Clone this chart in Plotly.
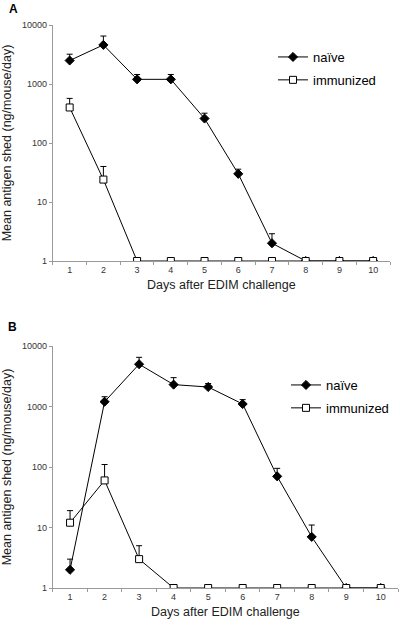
import plotly.graph_objects as go

days = [1, 2, 3, 4, 5, 6, 7, 8, 9, 10]

# Panel A
a_naive = [2500, 4600, 1200, 1200, 260, 30, 2, 1, 1, 1]
a_naive_err = [700, 1900, 250, 250, 60, 6, 0.9, 0, 0, 0]
a_imm = [400, 24, 1, 1, 1, 1, 1, 1, 1, 1]
a_imm_err = [170, 16, 0, 0, 0, 0, 0, 0, 0, 0]

# Panel B
b_naive = [2, 1200, 5000, 2300, 2100, 1100, 70, 7, 1, 1]
b_naive_err = [1, 250, 1500, 700, 300, 200, 25, 4, 0, 0]
b_imm = [12, 60, 3, 1, 1, 1, 1, 1, 1, 1]
b_imm_err = [7, 50, 2, 0, 0, 0, 0, 0, 0, 0]

y_ticks = [1, 10, 100, 1000, 10000]
y_ticktext = ["1", "10", "100", "1000", "10000"]
x_title = "Days after EDIM challenge"
y_title = "Mean antigen shed (ng/mouse/day)"

FONT = "Arial, Liberation Sans, sans-serif"

fig = go.Figure()


def add_series(y, err, name, xa, ya, legend, filled, group):
    fig.add_trace(go.Scatter(
        x=days, y=y, name=name, mode="lines+markers",
        xaxis=xa, yaxis=ya, legend=legend, legendgroup=group,
        line=dict(color="black", width=1),
        marker=dict(
            symbol="diamond" if filled else "square",
            size=7,
            color="black" if filled else "white",
            line=dict(color="black", width=1),
        ),
        error_y=dict(type="data", symmetric=False, array=err,
                     arrayminus=[0] * len(err), color="black",
                     thickness=1, width=3),
    ))


# draw immunized after naive so its markers sit on top
add_series(a_naive, a_naive_err, "naïve", "x", "y", "legend", True, "a1")
add_series(a_imm, a_imm_err, "immunized", "x", "y", "legend", False, "a2")
add_series(b_naive, b_naive_err, "naïve", "x2", "y2", "legend2", True, "b1")
add_series(b_imm, b_imm_err, "immunized", "x2", "y2", "legend2", False, "b2")

xaxis_common = dict(
    range=[0.5, 10.5], tickvals=days, ticks="", showgrid=False, zeroline=False,
    showline=True, linecolor="#9a9a9a", linewidth=1, automargin=False,
    tickfont=dict(family=FONT, size=9, color="#333"),
    minor=dict(tickvals=[d + 0.5 for d in range(0, 11)], ticks="outside",
               ticklen=3, tickcolor="#9a9a9a", showgrid=False),
    title=dict(text=x_title, font=dict(family=FONT, size=12.5, color="#222"), standoff=6),
)
yaxis_common = dict(
    type="log", range=[0, 4], tickvals=y_ticks, ticktext=y_ticktext,
    ticks="outside", ticklen=3, tickcolor="#9a9a9a", showgrid=False, zeroline=False,
    showline=True, linecolor="#9a9a9a", linewidth=1, automargin=False,
    tickfont=dict(family=FONT, size=9, color="#333"),
    title=dict(text=y_title, font=dict(family=FONT, size=12.5, color="#222"), standoff=8),
)

legend_common = dict(xanchor="left", yanchor="top",
                     font=dict(family=FONT, size=13, color="black"),
                     itemwidth=30, traceorder="grouped", tracegroupgap=3,
                     bgcolor="rgba(0,0,0,0)")

fig.update_layout(
    width=400, height=625,
    margin=dict(l=0, r=0, t=0, b=0, autoexpand=False),
    paper_bgcolor="white", plot_bgcolor="white",
    font=dict(family=FONT, color="black"),
    xaxis=dict(domain=[0.132, 0.975], anchor="y", **xaxis_common),
    yaxis=dict(domain=[0.5824, 0.96], anchor="x", **yaxis_common),
    xaxis2=dict(domain=[0.132, 0.995], anchor="y2", **xaxis_common),
    yaxis2=dict(domain=[0.0592, 0.4464], anchor="x2", **yaxis_common),
    legend=dict(x=0.6825, y=1 - 42 / 625, **legend_common),
    legend2=dict(x=0.715, y=1 - 370 / 625, **legend_common),
    annotations=[
        dict(text="<b>A</b>", x=7 / 400, y=1 - 9 / 625, xref="paper", yref="paper",
             showarrow=False, xanchor="left", yanchor="middle",
             font=dict(family=FONT, size=12, color="black")),
        dict(text="<b>B</b>", x=6 / 400, y=1 - 327 / 625, xref="paper", yref="paper",
             showarrow=False, xanchor="left", yanchor="middle",
             font=dict(family=FONT, size=12, color="black")),
    ],
    showlegend=True,
)

fig.write_html("out.html", config={"displayModeBar": False},
               post_script="document.body.style.margin='0';")
